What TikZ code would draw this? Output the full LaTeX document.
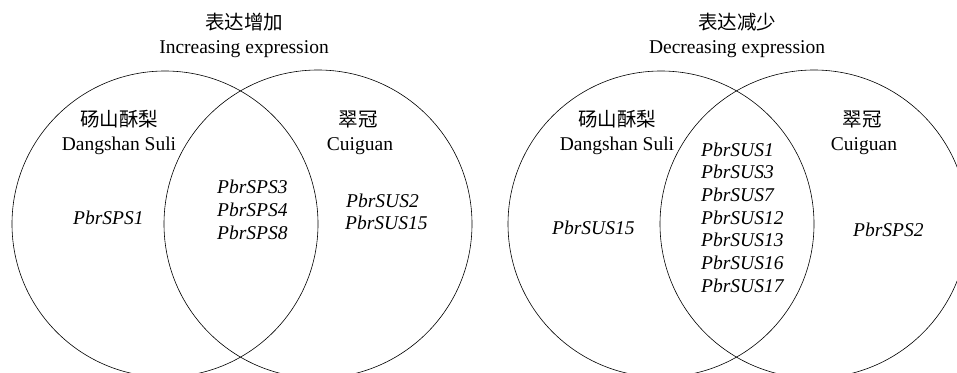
\documentclass[tikz,border=0pt]{standalone}
\usepackage{fontspec}
\setmainfont{Liberation Serif}
\newfontfamily\cjk{Noto Sans CJK SC}
\begin{document}
\begin{tikzpicture}[x=1pt,y=-1pt,
  venn/.style={draw=black,line width=0.6pt},
  txt/.style={inner sep=0pt,anchor=base,font=\fontsize{19.5}{23}\selectfont},
  gene/.style={inner sep=0pt,anchor=base west,font=\fontsize{19.5}{23}\selectfont\itshape}]
\useasboundingbox (0,0) rectangle (957,372);
\begin{scope}
\clip (0,0) rectangle (957,372);
\draw[venn] (165,224) circle[radius=153];
\draw[venn] (318,224) circle[radius=154];
\draw[venn] (661,224) circle[radius=153];
\draw[venn] (814,224) circle[radius=154];
\end{scope}
% left diagram
\node[txt] (t1a) at (244,29) {\cjk 表达增加};
\node[txt] (t1b) at (244,53) {Increasing expression};
\node[txt] (a1) at (119,126) {\cjk 砀山酥梨};
\node[txt] (a2) at (119,150) {Dangshan Suli};
\node[txt] (b1) at (358,126) {\cjk 翠冠};
\node[txt] (b2) at (360,150) {Cuiguan};
\node[gene] (g1) at (73,224) {PbrSPS1};
\node[gene] (g2) at (217,193) {PbrSPS3};
\node[gene] (g3) at (217,216) {PbrSPS4};
\node[gene] (g4) at (217,239) {PbrSPS8};
\node[gene] (g5) at (346,207) {PbrSUS2};
\node[gene] (g6) at (345,229) {PbrSUS15};
% right diagram
\node[txt] (t2a) at (737,29) {\cjk 表达减少};
\node[txt] (t2b) at (737,53) {Decreasing expression};
\node[txt] (c1) at (617,126) {\cjk 砀山酥梨};
\node[txt] (c2) at (617,150) {Dangshan Suli};
\node[txt] (d1) at (862,126) {\cjk 翠冠};
\node[txt] (d2) at (864,150) {Cuiguan};
\node[gene] (h1) at (552,234) {PbrSUS15};
\foreach \g [count=\i from 0] in {PbrSUS1,PbrSUS3,PbrSUS7,PbrSUS12,PbrSUS13,PbrSUS16,PbrSUS17}
  \node[gene] (m\i) at (701,156+22.7*\i) {\g};
\node[gene] (h2) at (853,236) {PbrSPS2};
\end{tikzpicture}
\end{document}
